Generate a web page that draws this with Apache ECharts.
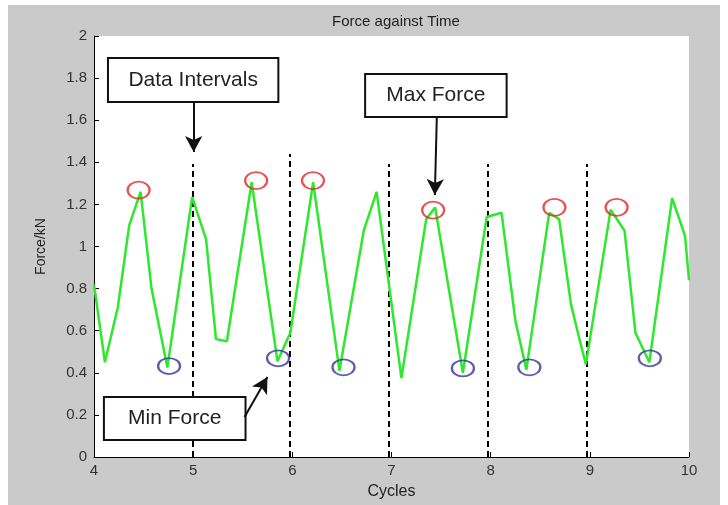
<!DOCTYPE html>
<html>
<head>
<meta charset="utf-8">
<script src="https://cdn.jsdelivr.net/npm/echarts@6/dist/echarts.min.js"></script>
<style>
html,body{margin:0;padding:0;background:#fff;}
#c{width:728px;height:505px;}
</style>
</head>
<body>
<div id="c"></div>
<script>
// Force trace (cycles, kN)
const forceX = [4.00, 4.11, 4.24, 4.355, 4.47, 4.58, 4.74, 4.99, 5.13, 5.23, 5.34, 5.59, 5.85, 5.98, 6.21, 6.475, 6.72, 6.85, 7.10, 7.35, 7.44, 7.72, 7.96, 8.11, 8.25, 8.36, 8.59, 8.69, 8.81, 8.89, 8.96, 9.21, 9.35, 9.46, 9.60, 9.83, 9.96, 10.00];
const forceY = [0.82, 0.45, 0.71, 1.10, 1.26, 0.80, 0.425, 1.235, 1.035, 0.56, 0.55, 1.305, 0.455, 0.59, 1.305, 0.41, 1.075, 1.26, 0.375, 1.13, 1.185, 0.40, 1.14, 1.16, 0.645, 0.415, 1.16, 1.13, 0.725, 0.57, 0.44, 1.175, 1.075, 0.59, 0.45, 1.23, 1.05, 0.84];

// Marked maxima (red circles) and minima (blue circles)
const maxX = [4.45, 5.635, 6.208, 7.42, 8.643, 9.27];
const maxY = [1.268, 1.313, 1.313, 1.173, 1.186, 1.186];
const minX = [4.757, 5.856, 6.516, 7.72, 8.39, 9.605];
const minY = [0.432, 0.469, 0.426, 0.421, 0.426, 0.469];

// Data interval dashed lines (cycle value, top of line in kN)
const intervalX = [4.995, 5.97, 6.97, 7.97, 8.965];
const intervalTop = [1.392, 1.44, 1.392, 1.392, 1.392];

// Axis ticks
const xTicks = [4, 5, 6, 7, 8, 9, 10];
const yTicks = [0, 0.2, 0.4, 0.6, 0.8, 1, 1.2, 1.4, 1.6, 1.8, 2];

// Annotations (text, box corners in data coords, arrow from/to in data coords)
const noteText = ['Data Intervals', 'Max Force', 'Min Force'];
const noteBox = [
  [[4.141, 1.895], [5.859, 1.686]],
  [[6.734, 1.819], [8.161, 1.615]],
  [[4.100, 0.285], [5.528, 0.081]]
];
const noteArrow = [
  [[5.005, 1.686], [5.005, 1.449]],
  [[7.457, 1.615], [7.437, 1.245]],
  [[5.518, 0.190], [5.749, 0.380]]
];

const FONT = 'Liberation Sans, Arial, sans-serif';
const chart = echarts.init(document.getElementById('c'), null, {renderer: 'canvas'});

const lineData = forceX.map((x, i) => [x, forceY[i]]);
const maxData = maxX.map((x, i) => [x, maxY[i]]);
const minData = minX.map((x, i) => [x, minY[i]]);

chart.setOption({
  animation: false,
  backgroundColor: '#ffffff',
  graphic: [{
    type: 'rect', z: -10, silent: true,
    shape: {x: 8, y: 5, width: 712, height: 500},
    style: {fill: '#cacaca'}
  }],
  title: {
    text: 'Force against Time',
    left: 391, top: 9, textAlign: 'center',
    textStyle: {fontFamily: FONT, fontSize: 15, fontWeight: 'normal', color: '#222'}
  },
  grid: {
    left: 94, top: 36, width: 595, height: 421,
    show: true, backgroundColor: '#ffffff', borderWidth: 0
  },
  xAxis: {
    type: 'value', min: xTicks[0], max: xTicks[xTicks.length - 1], interval: 1,
    name: 'Cycles', nameLocation: 'middle', nameGap: 27,
    nameTextStyle: {fontFamily: FONT, fontSize: 16, color: '#222'},
    axisLine: {show: true, onZero: false, lineStyle: {color: '#000', width: 1}},
    axisTick: {show: true, inside: true, length: 5, lineStyle: {color: '#000'}},
    axisLabel: {fontFamily: FONT, fontSize: 15, color: '#333', margin: 6},
    splitLine: {show: false}
  },
  yAxis: {
    type: 'value', min: yTicks[0], max: yTicks[yTicks.length - 1], interval: 0.2,
    name: 'Force/kN', nameLocation: 'middle', nameGap: 46,
    nameTextStyle: {fontFamily: FONT, fontSize: 14, color: '#222'},
    axisLine: {show: true, onZero: false, lineStyle: {color: '#000', width: 1}},
    axisTick: {show: true, inside: true, length: 5, lineStyle: {color: '#000'}},
    axisLabel: {fontFamily: FONT, fontSize: 15, color: '#333', margin: 7},
    splitLine: {show: false}
  },
  series: [
    {
      type: 'line', name: 'intervals', data: [], z: 2, silent: true,
      markLine: {
        silent: true, symbol: ['none', 'none'], z: 2,
        label: {show: false},
        lineStyle: {color: '#000', width: 2, type: [6, 4]},
        emphasis: {disabled: true},
        data: intervalX.map((x, i) => [{coord: [x, 0]}, {coord: [x, intervalTop[i]]}])
      }
    },
    {
      type: 'line', name: 'Force', data: lineData, z: 3,
      showSymbol: false, symbol: 'none',
      lineStyle: {color: '#2ee82e', width: 2.5},
      itemStyle: {color: '#2ee82e'}
    },
    {
      type: 'scatter', name: 'max', data: maxData, z: 4,
      symbol: 'circle', symbolSize: [22, 17],
      itemStyle: {color: 'rgba(0,0,0,0)', borderColor: '#e02525', borderWidth: 2}
    },
    {
      type: 'scatter', name: 'min', data: minData, z: 4,
      symbol: 'circle', symbolSize: [22, 16],
      itemStyle: {color: 'rgba(0,0,0,0)', borderColor: '#33339a', borderWidth: 2}
    },
    {
      type: 'line', name: 'notes', data: [], z: 10, silent: true,
      markArea: {
        silent: true, z: 10,
        itemStyle: {color: '#ffffff', borderColor: '#111', borderWidth: 2},
        label: {show: true, position: 'inside', fontFamily: FONT, fontSize: 21, color: '#222'},
        emphasis: {disabled: true},
        data: noteBox.map((b, i) => [
          {coord: b[0], name: noteText[i]},
          {coord: b[1]}
        ])
      },
      markLine: {
        silent: true, z: 10, symbol: ['none', 'arrow'], symbolSize: [13, 16],
        label: {show: false},
        lineStyle: {color: '#111', width: 2, type: 'solid'},
        emphasis: {disabled: true},
        data: noteArrow.map(a => [{coord: a[0]}, {coord: a[1]}])
      }
    }
  ]
});
</script>
</body>
</html>
